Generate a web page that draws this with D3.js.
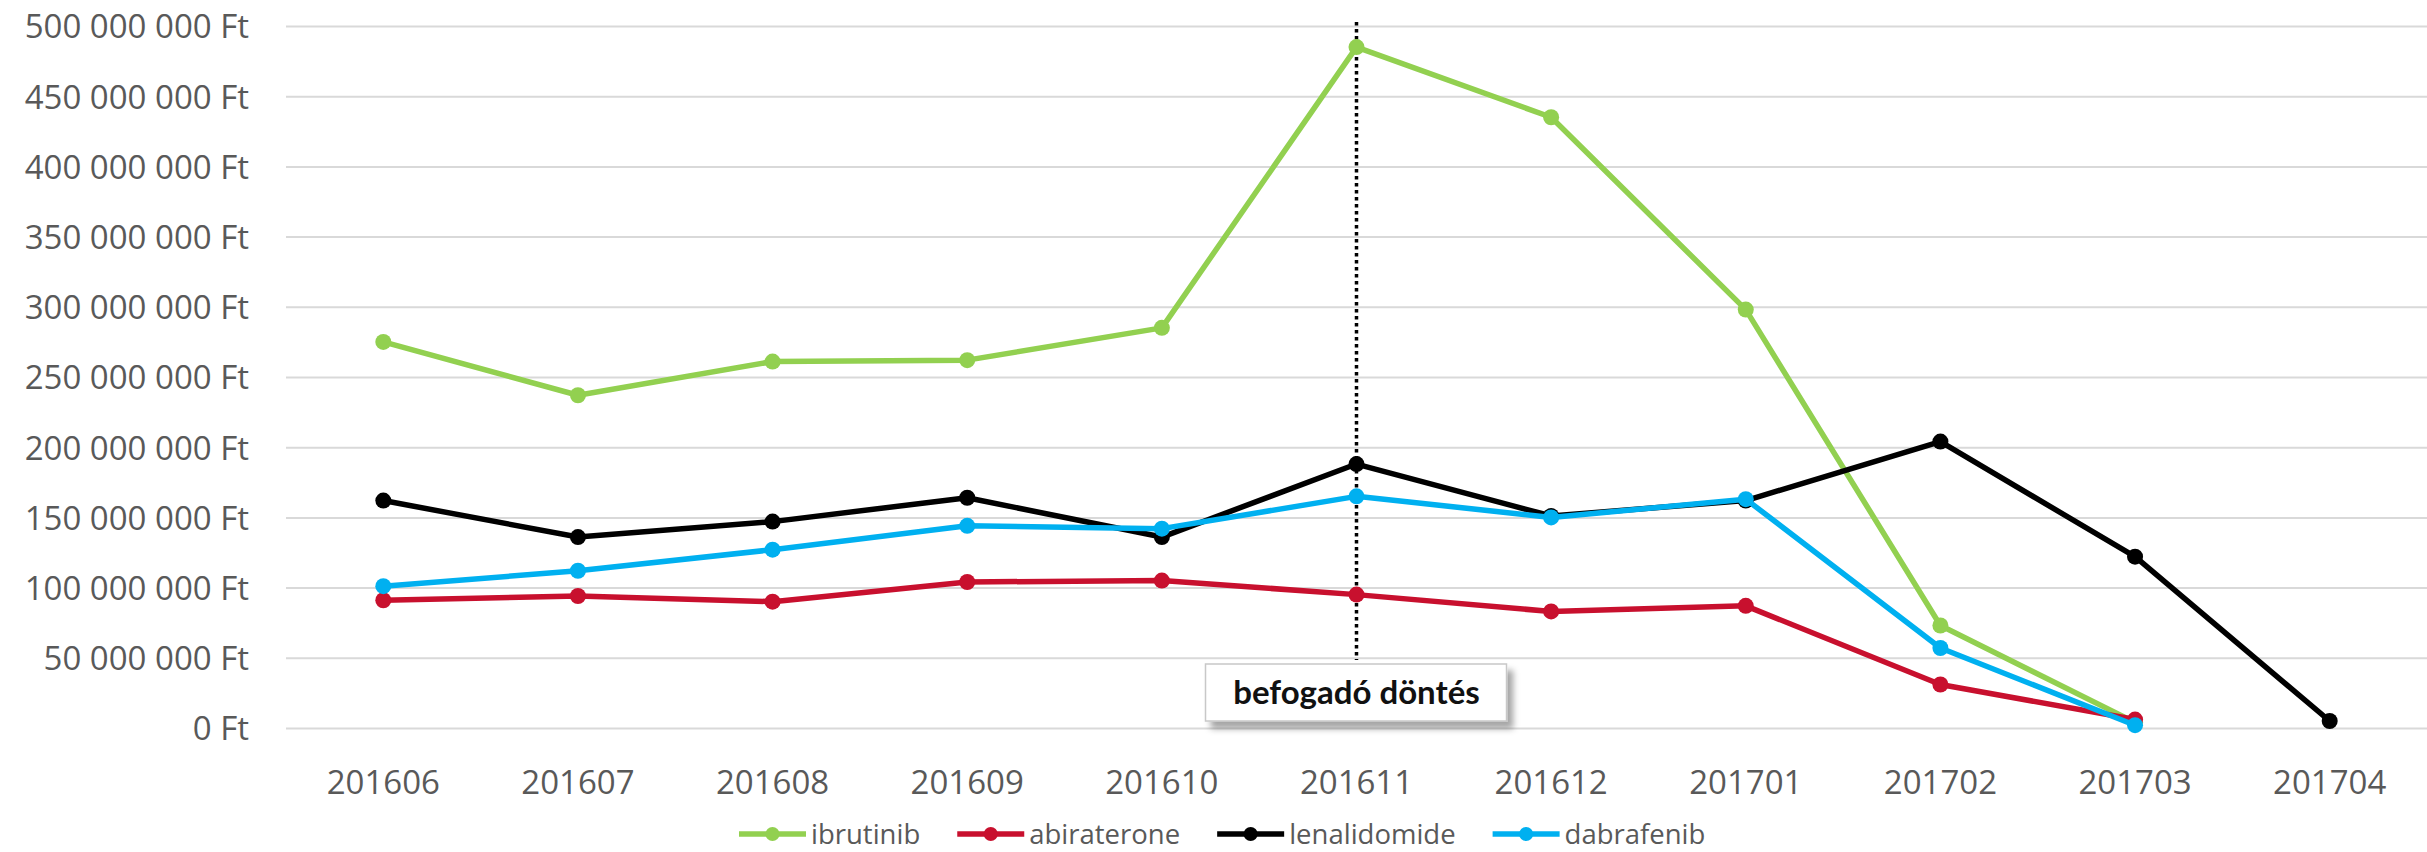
<!DOCTYPE html>
<html>
<head>
<meta charset="utf-8">
<script src="https://cdn.jsdelivr.net/npm/d3@7"></script>
<style>
  html, body { margin: 0; padding: 0; background: #ffffff; }
  svg { display: block; }
</style>
</head>
<body>
<script>
// ---- data ----
const categories = ["201606","201607","201608","201609","201610","201611","201612","201701","201702","201703","201704"];
const ibrutinib   = [275, 237, 261, 262, 285, 485, 435, 298, 73, 4, null];
const abiraterone = [91, 94, 90, 104, 105, 95, 83, 87, 31, 6, null];
const lenalidomide = [162, 136, 147, 164, 136, 188, 151, 162, 204, 122, 5];
const dabrafenib  = [101, 112, 127, 144, 142, 165, 150, 163, 57, 2, null];
const seriesNames = ["ibrutinib", "abiraterone", "lenalidomide", "dabrafenib"];
const seriesColors = ["#92D050", "#C8102E", "#000000", "#00B0F0"];
const yTicks = [0, 50e6, 100e6, 150e6, 200e6, 250e6, 300e6, 350e6, 400e6, 450e6, 500e6];
const yTickLabels = ["0 Ft","50 000 000 Ft","100 000 000 Ft","150 000 000 Ft","200 000 000 Ft","250 000 000 Ft","300 000 000 Ft","350 000 000 Ft","400 000 000 Ft","450 000 000 Ft","500 000 000 Ft"];
const annotationCategory = "201611";
const annotationText = "befogadó döntés";

const seriesValues = [ibrutinib, abiraterone, lenalidomide, dabrafenib];
const series = seriesNames.map((n, i) => ({
  name: n, color: seriesColors[i],
  values: categories.map((c, j) => ({ c, v: seriesValues[i][j] == null ? null : seriesValues[i][j] * 1e6 }))
}));

// ---- layout ----
const W = 2427, H = 852;
const plotLeft = 286, plotRight = 2427, plotTop = 26, plotBottom = 728;

const svg = d3.select("body").append("svg").attr("width", W).attr("height", H);

const defs = svg.append("defs");
const f = defs.append("filter").attr("id", "shadow").attr("x", "-20%").attr("y", "-20%").attr("width", "150%").attr("height", "180%");
f.append("feDropShadow").attr("dx", 6).attr("dy", 7).attr("stdDeviation", 3).attr("flood-color", "#000").attr("flood-opacity", 0.35);

const x = d3.scaleBand().domain(categories).range([plotLeft, plotRight]).paddingInner(0).paddingOuter(0);
const y = d3.scaleLinear().domain([0, 500e6]).range([plotBottom, plotTop]);
const cx = c => x(c) + x.bandwidth() / 2;

// gridlines
const grid = svg.append("g").attr("transform", `translate(${plotLeft},0)`)
  .call(d3.axisLeft(y).tickValues(yTicks).tickSize(-(plotRight - plotLeft)).tickFormat(""));
grid.select(".domain").remove();
grid.selectAll(".tick line").attr("stroke", "#d9d9d9").attr("stroke-width", 2);

// y axis labels
const yAxis = svg.append("g").attr("transform", `translate(249,0)`)
  .call(d3.axisLeft(y).tickValues(yTicks).tickSize(0).tickPadding(0)
    .tickFormat((d, i) => yTickLabels[i]));
yAxis.select(".domain").remove();
yAxis.selectAll("text")
  .attr("font-family", "'Open Sans', sans-serif").attr("font-size", 33)
  .attr("fill", "#595959").attr("dy", "0.36em");

// x axis labels
const xAxis = svg.append("g").attr("transform", `translate(0,${plotBottom})`)
  .call(d3.axisBottom(x).tickSize(0).tickPadding(0));
xAxis.select(".domain").remove();
xAxis.selectAll("text")
  .attr("font-family", "'Open Sans', sans-serif").attr("font-size", 33)
  .attr("fill", "#595959").attr("y", 66).attr("dy", 0);

// annotation dotted line
const ax = cx(annotationCategory);
svg.append("line")
  .attr("x1", ax).attr("x2", ax).attr("y1", 22).attr("y2", 660)
  .attr("stroke", "#000").attr("stroke-width", 3.5).attr("stroke-dasharray", "3.5,3.5");

// series
const line = d3.line().defined(d => d.v != null).x(d => cx(d.c)).y(d => y(d.v));
series.forEach(s => {
  const g = svg.append("g");
  g.append("path").datum(s.values)
    .attr("fill", "none").attr("stroke", s.color).attr("stroke-width", 5.5)
    .attr("stroke-linejoin", "round").attr("d", line);
  g.selectAll("circle").data(s.values.filter(d => d.v != null)).enter().append("circle")
    .attr("cx", d => cx(d.c)).attr("cy", d => y(d.v)).attr("r", 8)
    .attr("fill", s.color);
});

// annotation box
const box = svg.append("g");
box.append("rect")
  .attr("x", ax - 151).attr("y", 664).attr("width", 301).attr("height", 57)
  .attr("fill", "#ffffff").attr("stroke", "#c8c8c8").attr("stroke-width", 1.5)
  .attr("filter", "url(#shadow)");
box.append("text")
  .attr("x", ax).attr("y", 704).attr("text-anchor", "middle")
  .attr("font-family", "Lato, sans-serif").attr("font-weight", 700).attr("font-size", 33)
  .attr("fill", "#111").text(annotationText);

// legend
const leg = svg.append("g");
let lx = 739;
const ly = 834;
series.forEach(s => {
  const it = leg.append("g");
  it.append("line").attr("x1", lx).attr("x2", lx + 67).attr("y1", ly).attr("y2", ly)
    .attr("stroke", s.color).attr("stroke-width", 5.5);
  it.append("circle").attr("cx", lx + 33.5).attr("cy", ly).attr("r", 7).attr("fill", s.color);
  const t = it.append("text").attr("x", lx + 72).attr("y", 844)
    .attr("font-family", "'Open Sans', sans-serif").attr("font-size", 27.5)
    .attr("fill", "#595959").text(s.name);
  lx = lx + 72 + t.node().getComputedTextLength() + 37;
});
</script>
</body>
</html>
